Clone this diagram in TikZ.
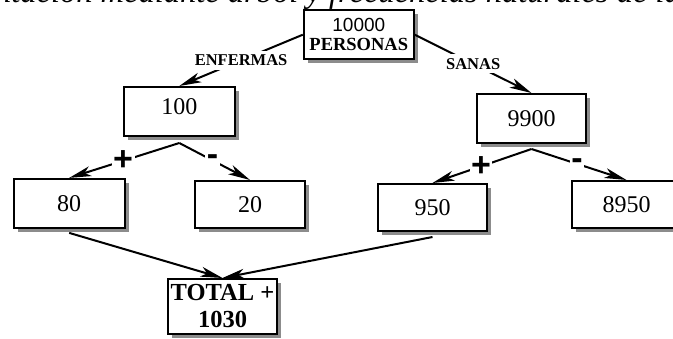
\documentclass[tikz,border=0pt]{standalone}
\usepackage{fontspec}
\setmainfont{Liberation Serif}
\newfontfamily\sansf{Liberation Sans}
\usetikzlibrary{shadows,arrows.meta}
\begin{document}
\begin{tikzpicture}[x=1pt,y=-1pt,
  box/.style={draw=black,line width=2pt,fill=white,rectangle,inner sep=0pt,
    drop shadow={shadow xshift=4pt,shadow yshift=-4pt,fill=black!45,opacity=1}},
  numtxt/.style={font=\fontsize{24}{26}\selectfont},
  conn/.style={line width=2pt,-{Stealth[length=22pt,width=10pt,inset=6pt]}},
  lab/.style={fill=white,inner sep=4pt,font=\fontsize{16.5}{17}\selectfont\bfseries},
  sign/.style={fill=white,inner sep=1.5pt,font=\sansf\fontsize{34}{34}\selectfont\bfseries}
]
\useasboundingbox (0,0) rectangle (673,339);
\clip (0,0) rectangle (673,339);
\fill[white] (0,0) rectangle (673,339);
% clipped caption at top
\node[anchor=base east,inner sep=0pt,font=\fontsize{32.5}{33}\selectfont\itshape] (cap) at (681,3) {Representación mediante árbol y frecuencias naturales de la};
% boxes
\node[box,minimum width=110pt,minimum height=49pt,align=center,font=\fontsize{19}{18.5}\selectfont] (top) at (358.8,34.7)
  {{\sansf 10000}\\{\fontsize{18.5}{18.5}\selectfont\bfseries PERSONAS}};
\node[box,numtxt,minimum width=111pt,minimum height=49pt] (n100) at (179.3,111.5) {\raisebox{9pt}{100}};
\node[box,numtxt,minimum width=109pt,minimum height=49pt] (n9900) at (531.5,118.5) {9900};
\node[box,numtxt,minimum width=111pt,minimum height=49pt] (n80) at (69.2,203.4) {80};
\node[box,numtxt,minimum width=110pt,minimum height=47pt] (n20) at (250,204.5) {20};
\node[box,numtxt,minimum width=109pt,minimum height=47pt] (n950) at (432.5,207.5) {950};
\node[box,numtxt,minimum width=109pt,minimum height=47pt] (n8950) at (626.5,204.5) {8950};
\node[box,minimum width=109pt,minimum height=55pt,align=center,font=\fontsize{24.5}{27}\selectfont\bfseries] (total) at (222.5,306.5) {TOTAL +\\1030};
% branch points
\coordinate (b1) at ([yshift=-6pt]n100.south);
\coordinate (b2) at ([yshift=-5pt]n9900.south);
\coordinate (s80) at ([yshift=-4pt]n80.south);
\coordinate (s950) at ([yshift=-5pt]n950.south);
% connectors
\draw[conn] (top.west) -- node[lab,pos=0.5] {ENFERMAS} (n100.north);
\draw[conn] (top.east) -- node[lab,pos=0.5] {SANAS} (n9900.north);
\draw[conn] (b1) -- node[sign,pos=0.51] {+} (n80.north);
\draw[conn] (b1) -- node[sign,pos=0.47] {-} (n20.north);
\draw[conn] (b2) -- node[sign,pos=0.51] {+} (n950.north);
\draw[conn] (b2) -- node[sign,pos=0.48] {-} (n8950.north);
\draw[conn] (s80) -- (total.north);
\draw[conn] (s950) -- (total.north);
\end{tikzpicture}
\end{document}
